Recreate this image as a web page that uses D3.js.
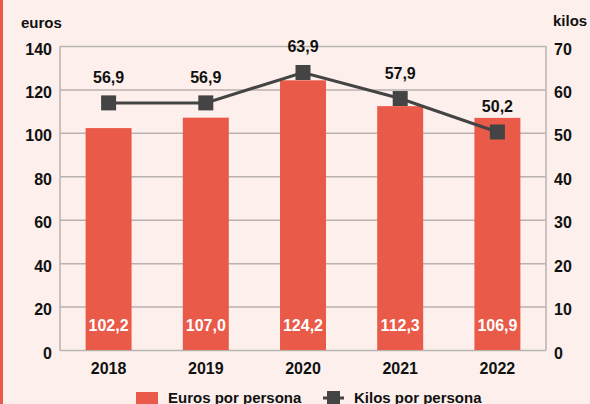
<!DOCTYPE html>
<html><head><meta charset="utf-8">
<script src="https://cdn.jsdelivr.net/npm/d3@7"></script>
<style>
html,body{margin:0;padding:0;background:#fdf0ec;}
svg{display:block;font-family:"Liberation Sans",Arial,Helvetica,sans-serif;font-weight:bold;}
</style></head>
<body>
<svg id="chart" width="590" height="404"></svg>
<script>
const years = ["2018","2019","2020","2021","2022"];
const euros = [102.2, 107.0, 124.2, 112.3, 106.9];
const kilos = [56.9, 56.9, 63.9, 57.9, 50.2];
const leftTicks = [0,20,40,60,80,100,120,140];
const rightTicks = [0,10,20,30,40,50,60,70];

const svg = d3.select("#chart");
const W = 590, H = 404;
const m = {left:60, right:546, top:46, bottom:350};
const red = "#ea5a49", dark = "#444444", grid = "#b8b2b0";
const fmt = v => v.toFixed(1).replace(".", ",");
const FF = "Liberation Sans, Arial, sans-serif";

svg.append("rect").attr("width",W).attr("height",H).attr("fill","#fdf0ec");
svg.append("rect").attr("x",0).attr("y",0).attr("width",3).attr("height",H).attr("fill",red);

const x = d3.scaleBand().domain(years).range([m.left,m.right]).paddingInner(0.527).paddingOuter(0.2635);
const yL = d3.scaleLinear().domain([0,140]).range([m.bottom,m.top]);
const yR = d3.scaleLinear().domain([0,70]).range([m.bottom,m.top]);

// gridlines
svg.append("g").selectAll("line").data(leftTicks).join("line")
  .attr("x1",m.left).attr("x2",m.right)
  .attr("y1",d=>yL(d)+0.5).attr("y2",d=>yL(d)+0.5)
  .attr("stroke",grid).attr("stroke-width",1.5);

// axis lines
[m.left,m.right].forEach(xx=>{
  svg.append("line").attr("x1",xx).attr("x2",xx).attr("y1",m.top).attr("y2",m.bottom+0.5)
    .attr("stroke",grid).attr("stroke-width",1.5);
});

function styleAxis(g){
  g.select(".domain").remove();
  g.selectAll("text").attr("font-size",16).attr("font-weight","bold").attr("fill","#111").attr("font-family",FF);
}

const axL = d3.axisLeft(yL).tickValues(leftTicks).tickSize(0).tickPadding(8);
const gL = svg.append("g").attr("transform",`translate(${m.left},3)`).call(axL);
styleAxis(gL);

const axR = d3.axisRight(yR).tickValues(rightTicks).tickSize(0).tickPadding(8);
const gR = svg.append("g").attr("transform",`translate(${m.right},3)`).call(axR);
styleAxis(gR);

// unit labels
svg.append("text").attr("x",21).attr("y",28).attr("font-size",15).attr("fill","#111").text("euros");
svg.append("text").attr("x",553).attr("y",26).attr("font-size",15).attr("fill","#111").text("kilos");

// bars
svg.append("g").selectAll("rect").data(euros).join("rect")
  .attr("x",(d,i)=>x(years[i])).attr("width",x.bandwidth())
  .attr("y",d=>yL(d)).attr("height",d=>yL(0)-yL(d)).attr("fill",red);

// bar value labels
svg.append("g").selectAll("text").data(euros).join("text")
  .attr("x",(d,i)=>x(years[i])+x.bandwidth()/2).attr("y",331)
  .attr("text-anchor","middle").attr("font-size",16).attr("fill","#fff").text(d=>fmt(d));

// x axis labels
const axB = d3.axisBottom(x).tickSize(0).tickPadding(13);
const gB = svg.append("g").attr("transform",`translate(0,${m.bottom})`).call(axB);
styleAxis(gB);

// line
const cx = i => x(years[i]) + x.bandwidth()/2;
const line = d3.line().x((d,i)=>cx(i)).y(d=>yR(d));
svg.append("path").datum(kilos).attr("d",line).attr("fill","none").attr("stroke",dark).attr("stroke-width",3);
const sq = 15;
svg.append("g").selectAll("rect").data(kilos).join("rect")
  .attr("x",(d,i)=>cx(i)-sq/2).attr("y",d=>yR(d)-sq/2).attr("width",sq).attr("height",sq).attr("fill",dark);
svg.append("g").selectAll("text").data(kilos).join("text")
  .attr("x",(d,i)=>cx(i)).attr("y",d=>yR(d)-20)
  .attr("text-anchor","middle").attr("font-size",16).attr("fill","#111").text(d=>fmt(d));

// legend
const lg = svg.append("g");
lg.append("rect").attr("x",136).attr("y",392).attr("width",22).attr("height",14).attr("fill",red);
lg.append("text").attr("x",168).attr("y",403).attr("font-size",15).attr("fill","#111").text("Euros por persona");
lg.append("line").attr("x1",323).attr("x2",344).attr("y1",398).attr("y2",398).attr("stroke",dark).attr("stroke-width",3);
lg.append("rect").attr("x",327).attr("y",391).attr("width",13).attr("height",13).attr("fill",dark);
lg.append("text").attr("x",354).attr("y",403).attr("font-size",15).attr("fill","#111").text("Kilos por persona");
</script>
</body></html>
